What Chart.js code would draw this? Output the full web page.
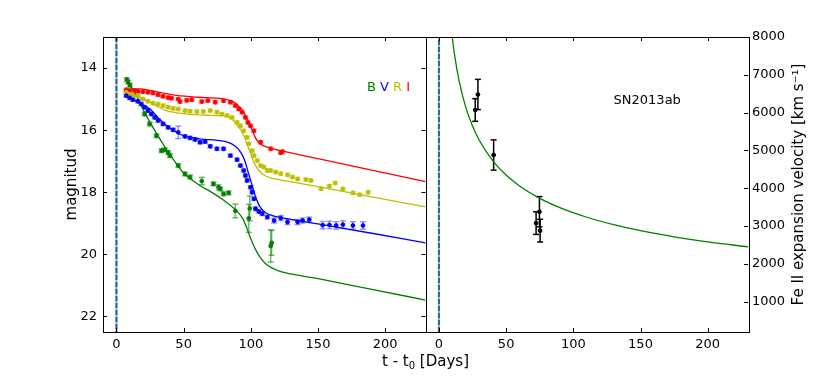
<!DOCTYPE html>
<html>
<head>
<meta charset="utf-8">
<script src="https://cdn.jsdelivr.net/npm/chart.js@4.4.0/dist/chart.umd.min.js"></script>
<style>
    html, body { margin: 0; padding: 0; background: #fff; }
    #wrap { width: 830px; height: 381px; }
</style>
</head>
<body>
<div id="wrap"><canvas id="myChart" width="830" height="381"></canvas></div>
<script>

// tick labels
var dayTicks = [0, 50, 100, 150, 200];
var magTicks = [14, 16, 18, 20, 22];
var velTicks = [1000, 2000, 3000, 4000, 5000, 6000, 7000, 8000];
var bands = ['B', 'V', 'R', 'I'];

// B band (observed)
var bDays = [7.7, 8.7, 10, 21, 24.7, 29.8, 33.5, 36, 38.5, 39.8, 46, 51, 54.8, 63.5, 72.2, 76, 77.3, 79.7, 83.5, 88.5, 98.5, 99.2, 114.8, 115.5];
var bMag = [14.37, 14.45, 14.55, 15.48, 15.80, 16.18, 16.66, 16.63, 16.72, 16.82, 17.14, 17.41, 17.51, 17.64, 17.73, 17.84, 17.89, 18.05, 18.02, 18.60, 18.84, 18.52, 19.73, 19.63];
var bErr = [0.06, 0.06, 0.06, 0.06, 0.06, 0.06, 0.06, 0.06, 0.06, 0.06, 0.06, 0.06, 0.06, 0.12, 0.06, 0.08, 0.06, 0.06, 0.06, 0.22, 0.45, 0.4, 0.52, 0.4];

// V band (observed)
var vDays = [7.3, 9.8, 12.2, 16, 18.5, 21, 23.5, 26, 28.5, 31, 34.7, 38.5, 42.2, 46, 51, 54.8, 58.5, 62.3, 66, 69.8, 74.8, 79.7, 84.8, 89.8, 92.3, 94.7, 96, 97.3, 99.8, 101, 102.3, 103.5, 106, 108.5, 112.3, 117.3, 122.3, 127.3, 134.8, 138.5, 143.5, 153.5, 158.5, 163.5, 168.5, 176, 183.5];
var vMag = [14.89, 14.96, 15.02, 15.07, 15.16, 15.26, 15.37, 15.48, 15.59, 15.69, 15.80, 15.91, 15.99, 16.07, 16.20, 16.25, 16.30, 16.39, 16.37, 16.52, 16.60, 16.60, 16.82, 16.95, 17.14, 17.30, 17.46, 17.62, 17.84, 18.00, 18.21, 18.53, 18.62, 18.69, 18.80, 18.91, 18.83, 18.96, 18.96, 18.91, 18.88, 19.06, 19.05, 19.07, 19.04, 19.07, 19.07];
var vErr = [0.05, 0.05, 0.05, 0.05, 0.05, 0.05, 0.05, 0.05, 0.05, 0.05, 0.05, 0.05, 0.05, 0.2, 0.05, 0.05, 0.05, 0.05, 0.05, 0.05, 0.05, 0.05, 0.05, 0.05, 0.05, 0.05, 0.05, 0.05, 0.05, 0.05, 0.05, 0.06, 0.06, 0.06, 0.06, 0.08, 0.08, 0.08, 0.08, 0.08, 0.08, 0.12, 0.12, 0.12, 0.12, 0.12, 0.12];

// R band (observed)
var rDays = [7.3, 9.8, 12.2, 16, 19.7, 23.5, 27.2, 31, 34.7, 38.5, 42.2, 46, 51, 54.8, 59.8, 64.7, 69.8, 74.8, 78.5, 82.3, 86, 89.8, 92.3, 94.7, 97.3, 98.5, 101, 102.3, 104.8, 107.3, 109.8, 112.3, 114.8, 118.5, 122.3, 127.3, 131, 134.8, 141, 144.8, 152.3, 158.5, 162.8, 168.5, 176, 181, 187.3];
var rMag = [14.78, 14.84, 14.87, 14.89, 15.00, 15.07, 15.13, 15.16, 15.21, 15.26, 15.30, 15.32, 15.37, 15.39, 15.40, 15.40, 15.37, 15.42, 15.48, 15.53, 15.59, 15.75, 15.86, 16.02, 16.23, 16.44, 16.66, 16.82, 16.98, 17.14, 17.19, 17.30, 17.30, 17.35, 17.40, 17.44, 17.51, 17.57, 17.59, 17.62, 17.89, 17.80, 17.70, 17.89, 18.02, 18.08, 18.00];
var rErr = 0.05;

// I band (observed)
var iDays = [7.3, 9.8, 13.5, 16, 19.7, 23.5, 27.2, 31, 34.7, 38.5, 41, 46, 47.3, 52.3, 56, 63.5, 68, 73.5, 79.7, 84.8, 88.5, 91, 93.5, 96, 97.8, 99.8, 102.3, 107.3, 114.8, 122.3, 123.5];
var iMag = [14.70, 14.73, 14.73, 14.75, 14.76, 14.78, 14.80, 14.86, 14.91, 14.95, 14.97, 15.00, 15.08, 15.04, 15.02, 15.08, 15.05, 15.10, 15.05, 15.10, 15.21, 15.32, 15.42, 15.59, 15.75, 15.86, 16.02, 16.39, 16.60, 16.73, 16.69];
var iErr = 0.05;

// model light curves
var bFitDays = [7, 10, 15, 20, 25, 30, 37, 45, 50, 56, 62, 70, 78, 85, 90, 94, 97, 100, 103, 107, 111, 115, 120, 150, 190, 230];
var bFitMag = [14.35, 14.55, 14.9, 15.35, 15.75, 16.12, 16.6, 17.1, 17.38, 17.6, 17.78, 17.98, 18.2, 18.43, 18.62, 18.85, 19.15, 19.5, 19.8, 20.1, 20.3, 20.42, 20.52, 20.78, 21.13, 21.47];
var vFitDays = [7, 12, 18, 25, 31, 37, 44, 50, 62, 75, 82, 88, 92, 95, 98, 101, 104, 107, 111, 116, 122, 150, 190, 230];
var vFitMag = [14.87, 15.0, 15.15, 15.32, 15.6, 15.85, 16.05, 16.18, 16.28, 16.33, 16.38, 16.5, 16.68, 16.92, 17.35, 17.78, 18.2, 18.48, 18.66, 18.75, 18.81, 19.02, 19.32, 19.63];
var rFitDays = [7, 12, 20, 30, 37, 45, 55, 62, 75, 82, 87, 91, 94, 97, 100, 103, 106, 110, 116, 122, 150, 190, 230];
var rFitMag = [14.78, 14.88, 15.0, 15.22, 15.37, 15.44, 15.49, 15.51, 15.53, 15.56, 15.69, 15.9, 16.1, 16.42, 16.78, 17.1, 17.3, 17.45, 17.55, 17.6, 17.82, 18.15, 18.47];
var iFitDays = [7, 12, 18, 25, 32, 45, 60, 77, 85, 90, 94.7, 97, 99.8, 103.5, 106, 108.5, 114.8, 122, 150, 190, 230];
var iFitMag = [14.72, 14.67, 14.67, 14.72, 14.78, 14.88, 14.94, 14.98, 15.05, 15.18, 15.42, 15.62, 15.86, 16.25, 16.4, 16.48, 16.58, 16.66, 16.92, 17.29, 17.66];

// Fe II velocities
var velDays = [27, 29, 40.7, 72.3, 74.8, 75.3];
var vel = [6070, 6480, 4880, 3080, 3380, 2880];
var velErr = [300, 400, 400, 300, 400, 300];
var velFitDays = [9, 10, 12, 15, 20, 25, 30, 40, 50, 60, 75, 90, 110, 130, 150, 175, 200, 230];
var velFit = [8289, 7966, 7439, 6840, 6140, 5645, 5271, 4731, 4350, 4062, 3735, 3487, 3234, 3037, 2878, 2716, 2583, 2451];

var colors = {
    B: '#008000',
    V: '#0000ff',
    R: '#bfbf00',
    I: '#ff0000'
};

Chart.defaults.font.family = '"DejaVu Sans", sans-serif';
Chart.defaults.font.size = 13;
Chart.defaults.color = '#000';

function xy(xs, ys) {
    return xs.map(function(x, i) {
        return {x: x, y: ys[i]};
    });
}

function errList(xs, err) {
    return Array.isArray(err) ? err : xs.map(function() { return err; });
}

function pointSet(xs, ys, err, color, errColor, xID, yID) {
    return {
        data: xy(xs, ys),
        errors: errList(xs, err),
        errorColor: errColor,
        showLine: false,
        pointRadius: 1.9,
        pointBorderWidth: 1,
        pointBackgroundColor: color,
        pointBorderColor: color,
        xAxisID: xID,
        yAxisID: yID,
        order: 1
    };
}

function fitSet(xs, ys, color, xID, yID) {
    return {
        data: xy(xs, ys),
        borderColor: color,
        borderWidth: 1.3,
        pointRadius: 0,
        fill: false,
        cubicInterpolationMode: 'monotone',
        xAxisID: xID,
        yAxisID: yID,
        order: 2
    };
}

function zeroLine(yMin, yMax, xID, yID, color, dash) {
    return {
        data: [{x: 0, y: yMin}, {x: 0, y: yMax}],
        borderColor: color,
        borderWidth: 2,
        borderDash: dash,
        pointRadius: 0,
        xAxisID: xID,
        yAxisID: yID,
        order: 3
    };
}

function hline(c, x1, y1, x2, y2) {
    c.beginPath();
    c.moveTo(x1, y1);
    c.lineTo(x2, y2);
    c.stroke();
}

var panelPlugin = {
    id: 'panels',

    beforeDatasetsDraw: function(chart) {
        var c = chart.ctx;
        c.save();
        c.lineWidth = 1.5;
        chart.data.datasets.forEach(function(ds, i) {
            if (!ds.errors) {
                return;
            }
            var meta = chart.getDatasetMeta(i);
            var yScale = chart.scales[ds.yAxisID];
            c.strokeStyle = ds.errorColor;
            meta.data.forEach(function(el, j) {
                var val = ds.data[j].y;
                var e = ds.errors[j];
                var y1 = yScale.getPixelForValue(val - e);
                var y2 = yScale.getPixelForValue(val + e);
                hline(c, el.x, y1, el.x, y2);
                hline(c, el.x - 3, y1, el.x + 3, y1);
                hline(c, el.x - 3, y2, el.x + 3, y2);
            });
        });
        c.restore();
    },

    afterDraw: function(chart) {
        var c = chart.ctx;
        var s = chart.scales;
        var area = chart.chartArea;
        var top = area.top, bottom = area.bottom;

        c.save();
        c.strokeStyle = '#000';
        c.lineWidth = 1;

        // frames and x ticks (inside)
        [s.xL, s.xR].forEach(function(x) {
            c.strokeRect(Math.round(x.left) + 0.5, Math.round(top) + 0.5, Math.round(x.right - x.left), Math.round(bottom - top));
            dayTicks.forEach(function(v) {
                var px = Math.round(x.getPixelForValue(v)) + 0.5;
                hline(c, px, top, px, top + 4);
                hline(c, px, bottom, px, bottom - 4);
            });
        });
        magTicks.forEach(function(v) {
            var py = Math.round(s.yM.getPixelForValue(v)) + 0.5;
            hline(c, s.xL.left, py, s.xL.left + 4, py);
            hline(c, s.xL.right, py, s.xL.right - 4, py);
        });
        velTicks.forEach(function(v) {
            var py = Math.round(s.yV.getPixelForValue(v)) + 0.5;
            hline(c, s.xR.right, py, s.xR.right - 4, py);
        });

        // axis titles
        c.fillStyle = '#000';
        c.textAlign = 'center';
        c.textBaseline = 'middle';
        c.font = '15px "DejaVu Sans"';
        c.save();
        c.translate(72, (top + bottom) / 2);
        c.rotate(-Math.PI / 2);
        c.fillText('magnitud', 0, 0);
        c.restore();
        c.save();
        c.translate(799, (top + bottom) / 2);
        c.rotate(-Math.PI / 2);
        c.fillText('Fe II expansion velocity [km s\u207B\u00B9]', 0, 0);
        c.restore();

        // x title with subscript
        c.textAlign = 'left';
        c.textBaseline = 'alphabetic';
        var part1 = 't - t', part2 = '0', part3 = ' [Days]';
        c.font = '15px "DejaVu Sans"';
        var w1 = c.measureText(part1).width;
        var w3 = c.measureText(part3).width;
        c.font = '10px "DejaVu Sans"';
        var w2 = c.measureText(part2).width;
        var xStart = (area.left + area.right) / 2 - (w1 + w2 + w3) / 2;
        var base = 366;
        c.font = '15px "DejaVu Sans"';
        c.fillText(part1, xStart, base);
        c.font = '10px "DejaVu Sans"';
        c.fillText(part2, xStart + w1, base + 3);
        c.font = '15px "DejaVu Sans"';
        c.fillText(part3, xStart + w1 + w2, base);

        // band legend
        c.font = '13px "DejaVu Sans"';
        var lx = s.xL.getPixelForValue(186.5);
        var ly = s.yM.getPixelForValue(14.74);
        bands.forEach(function(b) {
            c.fillStyle = colors[b];
            c.fillText(b, lx, ly);
            lx += c.measureText(b + ' ').width;
        });

        // object label
        c.fillStyle = '#000';
        c.textAlign = 'center';
        c.textBaseline = 'middle';
        c.fillText('SN2013ab', s.xR.getPixelForValue(155), s.yV.getPixelForValue(6330));

        c.restore();
    }
};

function xScale() {
    return {
        type: 'linear',
        position: 'bottom',
        stack: 'panels',
        min: -10,
        max: 230,
        grid: { display: false, drawTicks: false },
        border: { display: false },
        ticks: {
            padding: 5,
            autoSkip: false,
            maxRotation: 0,
            minRotation: 0,
            callback: function(v) { return String(v); }
        },
        afterBuildTicks: function(scale) {
            scale.ticks = dayTicks.map(function(v) { return {value: v}; });
        },
        afterFit: function(scale) {
            scale.height = 49;
        }
    };
}

var ctx = document.getElementById('myChart').getContext('2d');
new Chart(ctx, {
    type: 'line',
    plugins: [panelPlugin],
    data: {
        datasets: [
            pointSet(bDays, bMag, bErr, colors.B, 'rgba(0,128,0,0.55)', 'xL', 'yM'),
            pointSet(vDays, vMag, vErr, colors.V, 'rgba(0,0,255,0.4)', 'xL', 'yM'),
            pointSet(rDays, rMag, rErr, colors.R, 'rgba(191,191,0,0.45)', 'xL', 'yM'),
            pointSet(iDays, iMag, iErr, colors.I, 'rgba(255,0,0,0.4)', 'xL', 'yM'),
            fitSet(bFitDays, bFitMag, colors.B, 'xL', 'yM'),
            fitSet(vFitDays, vFitMag, colors.V, 'xL', 'yM'),
            fitSet(rFitDays, rFitMag, colors.R, 'xL', 'yM'),
            fitSet(iFitDays, iFitMag, colors.I, 'xL', 'yM'),
            pointSet(velDays, vel, velErr, '#000', '#000', 'xR', 'yV'),
            fitSet(velFitDays, velFit, '#008000', 'xR', 'yV'),
            zeroLine(13, 22.5, 'xL', 'yM', '#2b6699', [5, 2]),
            zeroLine(13, 22.5, 'xL', 'yM', '#8ab4d8', []),
            zeroLine(200, 8000, 'xR', 'yV', '#2b6699', [5, 2]),
            zeroLine(200, 8000, 'xR', 'yV', '#8ab4d8', [])
        ]
    },
    options: {
        responsive: false,
        animation: false,
        events: [],
        layout: {
            padding: { top: 37, left: 0, right: 0, bottom: 0 }
        },
        plugins: {
            legend: { display: false },
            tooltip: { enabled: false },
            title: { display: false }
        },
        scales: {
            xL: xScale(),
            xR: xScale(),
            yM: {
                type: 'linear',
                position: 'left',
                reverse: true,
                min: 13,
                max: 22.5,
                grid: { display: false, drawTicks: false },
                border: { display: false },
                ticks: {
                    padding: 6,
                    callback: function(v) { return String(v); }
                },
                afterBuildTicks: function(scale) {
                    scale.ticks = magTicks.map(function(v) { return {value: v}; });
                },
                afterFit: function(scale) {
                    scale.width = 103;
                }
            },
            yV: {
                type: 'linear',
                position: 'right',
                min: 200,
                max: 8000,
                grid: { display: false, drawTicks: false },
                border: { display: false },
                ticks: {
                    padding: 4,
                    callback: function(v) { return String(v); }
                },
                afterBuildTicks: function(scale) {
                    scale.ticks = velTicks.map(function(v) { return {value: v}; });
                },
                afterFit: function(scale) {
                    scale.width = 82;
                }
            }
        }
    }
});
</script>
</body>
</html>
